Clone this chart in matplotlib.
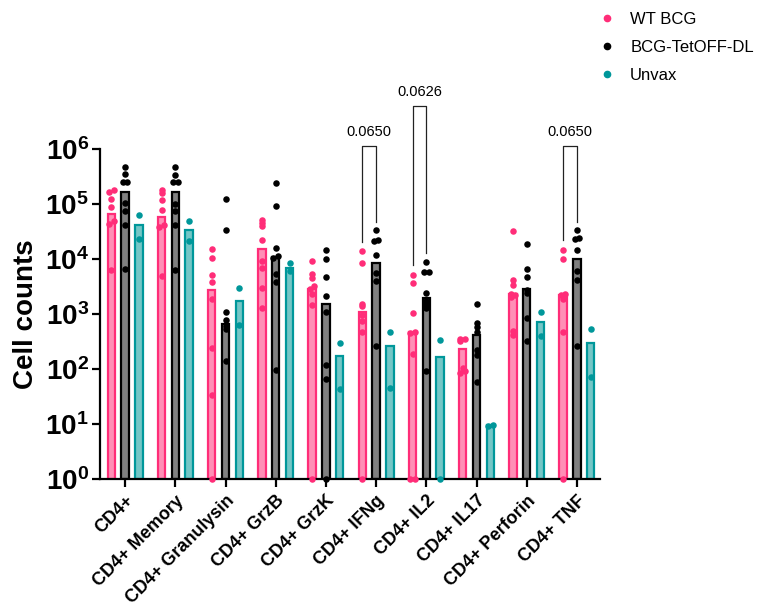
import numpy as np
import matplotlib
matplotlib.use('Agg')
from matplotlib import pyplot as plt
from matplotlib.lines import Line2D

plt.rcParams['font.family'] = ['Liberation Sans', 'DejaVu Sans']
plt.rcParams['mathtext.fontset'] = 'custom'
plt.rcParams['mathtext.rm'] = 'Liberation Sans:bold'
plt.rcParams['mathtext.bf'] = 'Liberation Sans:bold'
plt.rcParams['mathtext.it'] = 'Liberation Sans:bold'

categories = ['CD4+', 'CD4+ Memory', 'CD4+ Granulysin', 'CD4+ GrzB', 'CD4+ GrzK',
              'CD4+ IFNg', 'CD4+ IL2', 'CD4+ IL17', 'CD4+ Perforin', 'CD4+ TNF']
groups = ['WT BCG', 'BCG-TetOFF-DL', 'Unvax']

# bar heights
wt_bars = [65000, 59000, 2750, 15100, 2900, 1100, 470, 230, 2350, 2200]
tet_bars = [166000, 162000, 660, 11000, 1550, 8500, 1950, 417, 2800, 10000]
unvax_bars = [41000, 34000, 1740, 6900, 170, 257, 162, 9.5, 710, 295]

# individual animals (0 = below axis, drawn on the baseline)
wt_dots = [
    [182000, 166000, 123000, 89000, 48000, 44000, 6200],
    [178000, 158000, 120000, 79000, 42000, 38000, 5000],
    [15100, 10200, 5100, 3800, 1900, 245, 33, 0],
    [52000, 45000, 39000, 22000, 9300, 6900, 3000, 1260],
    [9300, 5400, 4500, 3160, 2900, 2350, 1450, 0],
    [13800, 8300, 1550, 1380, 955, 740, 480, 0],
    [5200, 3600, 1050, 480, 450, 190, 0, 0],
    [355, 350, 316, 105, 91, 85],
    [31600, 4100, 3300, 2350, 2200, 2000, 500, 417],
    [14500, 9800, 2350, 2200, 1900, 470, 0],
]
tet_dots = [
    [479000, 355000, 251000, 248000, 102000, 74000, 41000, 6600],
    [468000, 339000, 251000, 248000, 98000, 74000, 41000, 6200],
    [123000, 34000, 1100, 790, 600, 525, 138],
    [245000, 91000, 15800, 11200, 10500, 5400, 3800, 95],
    [14800, 9800, 4700, 2100, 1100, 117, 66, 0],
    [33000, 22000, 21000, 11700, 5600, 3900, 263],
    [8900, 5750, 5700, 2450, 1700, 1480, 1290, 91],
    [1550, 690, 575, 480, 224, 182, 58],
    [19000, 6600, 4700, 2750, 2400, 850, 316],
    [33000, 24000, 23500, 14500, 6000, 4100, 257],
]
unvax_dots = [
    [62000, 23000], [48000, 21000], [2950, 620], [8500, 6000], [300, 44],
    [480, 45], [340, 0], [9.5, 9.3], [1070, 390], [525, 71],
]

# comparisons: (category index, p value, bracket top)
comparisons = [(5, '0.0650', 1.12e6), (6, '0.0626', 6.0e6), (9, '0.0650', 1.12e6)]

pink = '#FF2D78'
pink_fill = '#FF8FB6'
teal = '#00979A'
teal_fill = '#74C6C6'

fig = plt.figure(figsize=(7.59, 6.08), dpi=100)
ax = fig.add_axes([0.1318, 0.2122, 0.6587, 0.5428])
ax.set_yscale('log')

x = np.arange(len(categories))
off = 0.275
w = 0.15
series = [
    (wt_bars, wt_dots, -off, pink_fill, pink, pink),
    (tet_bars, tet_dots, 0, '#808080', 'black', 'black'),
    (unvax_bars, unvax_dots, off, teal_fill, teal, teal),
]


def spread(vals):
    # push apart dots that sit on top of each other
    lv = np.log10(np.maximum(np.array(vals, dtype=float), 1))
    dx = np.zeros(len(lv))
    order = np.argsort(lv)
    for k in range(1, len(order)):
        i, j = order[k], order[k - 1]
        if abs(lv[i] - lv[j]) < 0.05:
            dx[i] = 0.045 if dx[j] <= 0 else -0.045
            if dx[j] == 0:
                dx[j] = -0.045
    return dx


for bars, dots, o, fc, ec, dc in series:
    hts = np.array(bars, dtype=float)
    ax.bar(x + o, hts - 1, bottom=1, width=w, color=fc, edgecolor=ec,
           linewidth=1.6, zorder=2)
    for i, d in enumerate(dots):
        d = np.maximum(np.array(d, dtype=float), 1)
        ax.scatter(x[i] + o + spread(d), d, s=22, color=dc, zorder=3,
                   linewidths=0, clip_on=False)

for i, p, top in comparisons:
    y1 = max(wt_dots[i]) * 1.5
    y2 = max(tet_dots[i]) * 1.45
    x1, x2 = x[i] - off, x[i]
    ax.plot([x1, x1, x2, x2], [y1, top, top, y2], color='#222222', lw=0.9,
            clip_on=False, zorder=4)
    ax.text((x1 + x2) / 2, top * 1.35, p, ha='center', va='bottom',
            fontsize=10.5, clip_on=False)

ax.set_ylim(1, 1e6)
ax.set_xlim(-0.5, 9.46)
ax.set_yticks([10.0 ** k for k in range(7)])
ax.set_yticklabels([r'$\mathbf{10^{%d}}$' % k for k in range(7)], fontsize=20)
ax.yaxis.set_minor_locator(matplotlib.ticker.NullLocator())
ax.set_xticks(x)
ax.set_xticklabels(categories, rotation=45, ha='right', rotation_mode='anchor',
                   fontsize=13, fontweight='bold')
ax.tick_params(axis='both', width=1.6, length=6)
ax.tick_params(axis='y', pad=2)
ax.spines['top'].set_visible(False)
ax.spines['right'].set_visible(False)
ax.spines['left'].set_linewidth(1.6)
ax.spines['bottom'].set_linewidth(1.6)
ax.set_ylabel('Cell counts', fontsize=20, fontweight='bold', labelpad=4)

handles = [Line2D([], [], ls='none', marker='o', ms=4.5, color=c)
           for c in [pink, 'black', teal]]
fig.legend(handles, groups, loc='upper left', bbox_to_anchor=(0.771, 1.005),
           frameon=False, fontsize=12, labelspacing=0.78, handlelength=0.8,
           handletextpad=1.0)

fig.savefig('out.png', dpi=100)
